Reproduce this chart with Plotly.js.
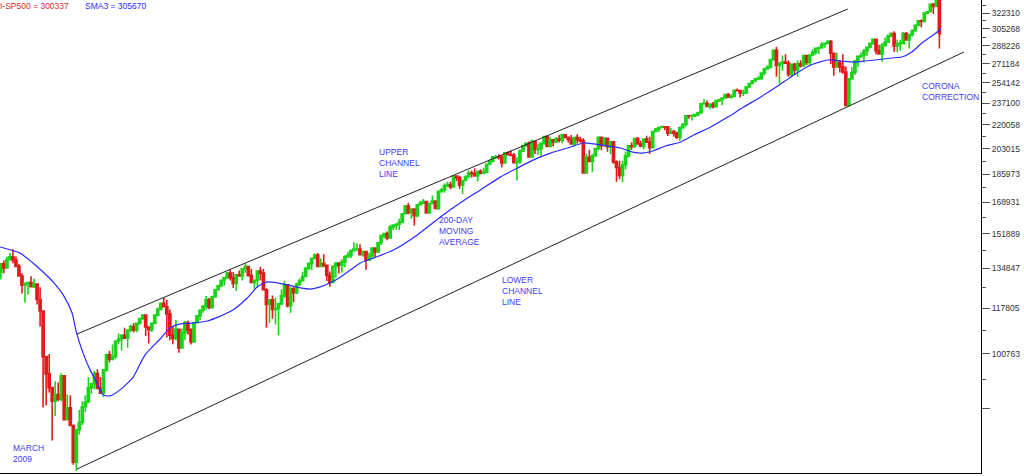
<!DOCTYPE html>
<html>
<head>
<meta charset="utf-8">
<script src="https://cdn.plot.ly/plotly-3.0.1.min.js"></script>
<style>
html,body{margin:0;padding:0;background:#fff;}
#chart{width:1024px;height:476px;}
</style>
</head>
<body>
<div id="chart"></div>
<script>
// ---- S&P 500, two-week candles (index points), centre of first period and period length ----
const firstCentre = '2008-03-11';
const periodDays = 14;

const opens = [
1330,1330,1370,1351,1390,1403,1388,1358,1314,1273,1282,1285,1267,1278,1213,1166,998,941,898,857,877,
863,935,805,838,789,696,778,798,841,855,897,910,942,896,881,954,1005,989,998,1053,1060,1073,1063,1093,1106,1092,
1118,1137,1150,1104,1094,1118,1150,1173,1197,1183,1155,1074,1062,1096,1028,1083,1121,1093,1049,1121,1147,1169,1185,1213,1180,1224,
1254,1271,1295,1307,1328,1306,1281,1319,1314,1347,1357,1317,1285,1295,1337,1327,1254,1193,1212,1172,1175,1195,1229,1275,1188,1258,
1241,1277,1293,1312,1350,1372,1396,1412,1358,1371,1363,1317,1285,1357,1374,1363,1379,1403,1410,1433,1441,1441,1413,1428,1387,1407,
1446,1426,1472,1508,1519,1496,1552,1563,1568,1578,1625,1669,1631,1652,1614,1676,1685,1694,1630,1683,1697,1655,1754,1762,1787,1795,1781,
1848,1838,1792,1820,1845,1868,1865,1851,1879,1867,1872,1924,1942,1973,1973,1970,1933,2000,1988,1983,1935,1941,2012,2051,2067,1973,
2081,2024,2029,2068,2115,2044,2092,2076,2098,2089,2127,2110,2096,2063,2108,2093,2084,1868,1970,1943,1979,2030,2110,2050,2102,2043,
2078,1939,1903,1852,1921,1980,2049,2045,2101,2063,2047,2097,2075,2036,2152,2169,2181,2187,2186,2139,2151,2140,2111,2180,2205,2271,
2268,2269,2280,2293,2365,2369,2344,2360,2342,2391,2400,2412,2440,2419,2425,2477,2474,2453,2457,2506,2535,2559,2575,2579,2627,2664,
2680,2751,2839,2695,2716,2728,2717,2614,2706,2655,2711,2690,2787,2723,2793,2820,2858,2863,2896,2907,2924,2810,2682,2722,2682,2636,
2351,2575,2632,2738,2780,2789,2832,2867,2907,2946,2834,2803,2885,2918,2980,3005,2882,2900,2906,3006,2940,2995,3036,3091,3140,3132,
3224,3238,3321,3298,3370
];
const highs = [
1336,1370,1386,1404,1422,1440,1404,1370,1328,1285,1290,1313,1303,1280,1265,1168,1000,1007,900,918,914,
943,935,877,875,792,778,832,857,875,930,910,951,956,931,954,1008,1018,1040,1053,1080,1077,1101,1093,1113,1119,1119,
1137,1150,1150,1104,1119,1152,1180,1199,1220,1212,1173,1106,1131,1096,1099,1128,1129,1100,1124,1150,1170,1190,1227,1219,1229,1255,
1276,1296,1308,1332,1344,1332,1320,1339,1349,1371,1358,1346,1298,1340,1356,1347,1260,1213,1230,1220,1196,1256,1293,1277,1267,1267,
1284,1303,1333,1354,1373,1396,1419,1422,1396,1415,1365,1334,1363,1375,1375,1392,1410,1426,1438,1474,1470,1465,1430,1428,1424,1448,
1449,1472,1509,1522,1530,1564,1563,1573,1598,1626,1674,1687,1654,1654,1680,1698,1709,1694,1684,1730,1700,1759,1775,1802,1813,1812,1849,
1849,1850,1820,1852,1884,1883,1897,1880,1891,1902,1925,1955,1973,1985,1991,1984,2005,2011,2019,1999,1970,2024,2056,2075,2079,2093,
2083,2064,2069,2115,2119,2114,2092,2111,2126,2134,2134,2115,2127,2108,2132,2113,2102,1994,2021,1994,2034,2116,2116,2103,2104,2081,
2081,1950,1947,1947,2010,2056,2075,2101,2111,2084,2103,2120,2113,2155,2178,2187,2194,2188,2188,2180,2162,2150,2182,2214,2272,2278,
2282,2283,2301,2366,2401,2391,2370,2379,2392,2406,2418,2446,2453,2443,2478,2491,2474,2480,2508,2540,2559,2582,2598,2627,2665,2695,
2759,2842,2873,2727,2789,2801,2742,2710,2718,2742,2743,2791,2791,2795,2849,2858,2873,2917,2912,2941,2940,2816,2815,2746,2800,2686,
2580,2681,2738,2787,2817,2852,2868,2910,2949,2954,2892,2910,2964,2996,3018,3028,2945,2940,3021,3022,2995,3047,3102,3141,3154,3226,
3246,3330,3337,3386,3393
];
const lows = [
1256,1298,1326,1351,1385,1373,1357,1314,1238,1200,1234,1266,1261,1192,1106,839,845,883,750,815,857,
857,805,805,789,690,676,765,790,826,855,879,893,893,880,869,947,978,985,991,1041,1019,1063,1029,1086,1084,1085,
1114,1131,1071,1044,1086,1116,1145,1168,1183,1065,1055,1041,1056,1011,1026,1056,1075,1040,1049,1118,1131,1159,1171,1173,1175,1221,
1251,1265,1271,1302,1294,1261,1249,1312,1294,1329,1311,1284,1258,1262,1295,1254,1101,1120,1136,1114,1074,1190,1220,1180,1158,1202,
1235,1271,1290,1310,1340,1340,1391,1357,1358,1354,1292,1267,1285,1306,1325,1329,1354,1398,1397,1433,1430,1413,1403,1343,1385,1398,
1398,1426,1461,1495,1485,1496,1538,1539,1537,1573,1622,1623,1598,1560,1604,1676,1683,1630,1627,1683,1655,1646,1746,1746,1780,1767,1780,
1816,1770,1738,1815,1834,1839,1844,1815,1860,1859,1868,1923,1940,1959,1955,1905,1933,1988,1978,1935,1821,1927,2010,2040,1972,1973,
1992,1988,1981,2057,2044,2039,2045,2073,2073,2067,2100,2072,2056,2044,2063,2073,1867,1868,1940,1872,1975,2017,2019,2050,2008,1993,
1927,1812,1828,1810,1891,1969,2022,2034,2063,2039,2025,2074,1992,2036,2149,2148,2175,2160,2119,2139,2114,2097,2084,2172,2187,2248,
2233,2258,2267,2291,2358,2344,2322,2328,2338,2380,2353,2411,2419,2405,2425,2467,2417,2428,2446,2496,2534,2546,2566,2566,2605,2660,
2667,2738,2593,2533,2647,2712,2594,2586,2612,2594,2676,2690,2699,2691,2781,2795,2802,2854,2864,2899,2710,2603,2682,2631,2621,2346,
2344,2569,2612,2681,2766,2722,2786,2860,2892,2801,2802,2729,2874,2912,2967,2822,2823,2835,2906,2940,2856,2976,3023,3084,3070,3129,
3212,3236,3214,3297,2855
];
const closes = [
1330,1370,1351,1390,1403,1388,1358,1314,1273,1282,1285,1267,1278,1213,1166,998,941,898,857,877,863,
935,805,838,789,696,778,798,841,855,897,910,942,896,881,954,1005,989,998,1053,1060,1073,1063,1093,1106,1092,1118,
1137,1150,1104,1094,1118,1150,1173,1197,1183,1155,1074,1062,1096,1028,1083,1121,1093,1049,1121,1147,1169,1185,1213,1180,1224,1254,
1271,1295,1307,1328,1306,1281,1319,1314,1347,1357,1317,1285,1295,1337,1327,1254,1193,1212,1172,1175,1195,1229,1275,1188,1258,1241,
1277,1293,1312,1350,1372,1396,1412,1358,1371,1363,1317,1285,1357,1374,1363,1379,1403,1410,1433,1441,1441,1413,1428,1387,1407,1446,
1426,1472,1508,1519,1496,1552,1563,1568,1578,1625,1669,1631,1652,1614,1676,1685,1694,1630,1683,1697,1655,1754,1762,1787,1795,1781,1848,
1838,1792,1820,1845,1868,1865,1851,1879,1867,1872,1924,1942,1973,1973,1970,1933,2000,1988,1983,1935,1941,2012,2051,2067,1973,2081,
2024,2029,2068,2115,2044,2092,2076,2098,2089,2127,2110,2096,2063,2108,2093,2084,1868,1970,1943,1979,2030,2110,2050,2102,2043,2078,
1939,1903,1852,1921,1980,2049,2045,2101,2063,2047,2097,2075,2036,2152,2169,2181,2187,2186,2139,2151,2140,2111,2180,2205,2271,2268,
2269,2280,2293,2365,2369,2344,2360,2342,2391,2400,2412,2440,2419,2425,2477,2474,2453,2457,2506,2535,2559,2575,2579,2627,2664,2680,
2751,2839,2695,2716,2728,2717,2614,2706,2655,2711,2690,2787,2723,2793,2820,2858,2863,2896,2907,2924,2810,2682,2722,2682,2636,2351,
2575,2632,2738,2780,2789,2832,2867,2907,2946,2834,2803,2885,2918,2980,3005,2882,2900,2906,3006,2940,2995,3036,3091,3140,3132,3224,
3238,3321,3298,3370,3003
];

// ---- 200-day simple moving average ----
const smaDates = ['2008-03-21','2008-06-22','2008-08-21','2008-10-07','2008-11-22','2009-01-08','2009-02-18','2009-03-09',
'2009-04-10','2009-05-13','2009-06-14','2009-07-12','2009-08-14','2009-09-29','2009-11-29','2010-01-23','2010-04-03',
'2010-05-19','2010-07-05','2010-09-03','2010-11-07','2011-01-07','2011-03-08','2011-05-12','2011-06-27','2011-08-13',
'2011-09-28','2011-11-14','2012-01-13','2012-02-29','2012-04-15','2012-05-31','2012-07-17','2012-09-01','2012-10-18',
'2012-12-17','2013-03-20','2013-07-09','2013-10-24','2014-01-25','2014-04-28','2014-07-30','2014-10-17','2014-12-30',
'2015-03-19','2015-06-06','2015-08-19','2015-10-05','2015-12-09','2016-02-07','2016-04-03','2016-05-19','2016-07-05',
'2016-09-03','2016-11-12','2017-01-11','2017-03-31','2017-06-18','2017-08-31','2017-11-18','2018-02-05','2018-04-21',
'2018-07-08','2018-09-25','2018-11-25','2019-01-29','2019-03-16','2019-05-02','2019-07-20','2019-09-04','2019-10-20',
'2019-12-06','2020-01-21','2020-02-27','2020-03-03'];
const smaValues = [1451,1421,1374,1332,1288,1232,1159,1089,
1011,954,913,876,873,891,931,1004,1060,
1101,1116,1119,1127,1146,1171,1219,1266,1288,
1284,1275,1262,1257,1266,1284,1309,1341,1374,
1397,1436,1512,1607,1687,1763,1843,1900,1953,
1999,2034,2069,2062,2048,2034,2006,1999,2013,
2048,2076,2126,2185,2260,2339,2421,2513,2609,
2699,2746,2737,2727,2737,2746,2765,2774,2822,
2910,2981,3043,3057];

// ---- channel lines (two end points each) ----
const upperDates = ['2009-03-13','2018-12-27'];
const upperValues = [1078,3268];
const lowerDates = ['2009-03-13','2020-06-18'];
const lowerValues = [680,2822];

// ---- right axis ----
const tickValues = [837.21,1007.63,1178.05,1348.47,1518.89,1689.31,1859.73,2030.15,2200.58,2371.00,2541.42,2711.84,2882.26,3052.68,3223.10];
const tickLabels = ['','100763','117805','134847','151889','168931','185973','203015','220058','237100','254142','271184','288226','305268','322310'];
const minorTickValues = [922.42,1092.84,1263.26,1433.68,1604.10,1774.52,1944.94,2115.37,2285.79,2456.21,2626.63,2797.05,2967.47,3137.89,3308.31];
const axisLow = 671, axisHigh = 3370;
const xStart = '2008-03-21', xEnd = '2020-09-05';

// ---- text ----
const headerTexts = ['I-SP500 = 300337','SMA3 = 305670'];
const noteTexts = ['UPPER<br>CHANNEL<br>LINE','200-DAY<br>MOVING<br>AVERAGE','LOWER<br>CHANNEL<br>LINE','MARCH<br>2009','CORONA<br>CORRECTION'];

// dates of candle centres
const t0 = Date.parse(firstCentre + 'T00:00:00Z');
const candleDates = opens.map((_, i) => new Date(t0 + i * periodDays * 86400000).toISOString().slice(0, 10));

const GREEN = '#19d419', RED = '#e01b1b', BLUE = '#2a2aff', NOTE = '#3c3cf5';

const traces = [
  {
    type: 'candlestick', x: candleDates, open: opens, high: highs, low: lows, close: closes,
    increasing: {line: {color: GREEN, width: 1.6}, fillcolor: GREEN},
    decreasing: {line: {color: RED, width: 1.6}, fillcolor: RED},
    whiskerwidth: 0, hoverinfo: 'skip'
  },
  {type: 'scatter', mode: 'lines', x: smaDates, y: smaValues, line: {color: BLUE, width: 1.2, shape: 'spline', smoothing: 0.6}, hoverinfo: 'skip'},
  {type: 'scatter', mode: 'lines', x: upperDates, y: upperValues, line: {color: '#222', width: 1}, hoverinfo: 'skip'},
  {type: 'scatter', mode: 'lines', x: lowerDates, y: lowerValues, line: {color: '#222', width: 1}, hoverinfo: 'skip'}
];

const W = 1024, H = 476, M = {l: 0, r: 43, t: 0, b: 3};
const PW = W - M.l - M.r, PH = H - M.t - M.b;
const px = v => v / PW, py = v => 1 - v / PH;
const FONT = '"Liberation Sans", Arial, Helvetica, sans-serif';

function note(text, x, y, color) {
  return {text: text, xref: 'paper', yref: 'paper', x: px(x), y: py(y), xanchor: 'left', yanchor: 'middle',
    align: 'left', showarrow: false, font: {family: FONT, size: 8.5, color: color}, borderpad: 0};
}

const layout = {
  width: W, height: H, margin: {l: M.l, r: M.r, t: M.t, b: M.b, pad: 0},
  paper_bgcolor: '#fff', plot_bgcolor: '#fff', showlegend: false,
  boxgap: 0,
  font: {family: FONT, size: 8.5, color: '#333'},
  xaxis: {type: 'date', range: [xStart, xEnd], showgrid: false, zeroline: false, showline: true,
    linecolor: '#000', linewidth: 1, ticks: '', showticklabels: false, rangeslider: {visible: false}, fixedrange: true},
  yaxis: {type: 'log', side: 'right', range: [Math.log10(axisLow), Math.log10(axisHigh)], showgrid: false, zeroline: false,
    showline: true, linecolor: '#000', linewidth: 1, ticks: 'outside', ticklen: 8, tickwidth: 1, tickcolor: '#555',
    tickmode: 'array', tickvals: tickValues, ticktext: tickLabels, tickfont: {family: FONT, size: 8.5, color: '#333'},
    minor: {tickmode: 'array', tickvals: minorTickValues, ticks: 'outside', ticklen: 4, tickwidth: 1, tickcolor: '#555', showgrid: false},
    fixedrange: true},
  annotations: [
    note(headerTexts[0], -1, 5.5, '#dd2a2a'),
    note(headerTexts[1], 84, 5.5, BLUE),
    note(noteTexts[0], 378, 162.5, NOTE),
    note(noteTexts[1], 438, 231, NOTE),
    note(noteTexts[2], 501, 291, NOTE),
    note(noteTexts[3], 12, 453.5, NOTE),
    note(noteTexts[4], 921, 92, NOTE)
  ]
};

Plotly.newPlot('chart', traces, layout, {staticPlot: true, displayModeBar: false});
</script>
</body>
</html>
